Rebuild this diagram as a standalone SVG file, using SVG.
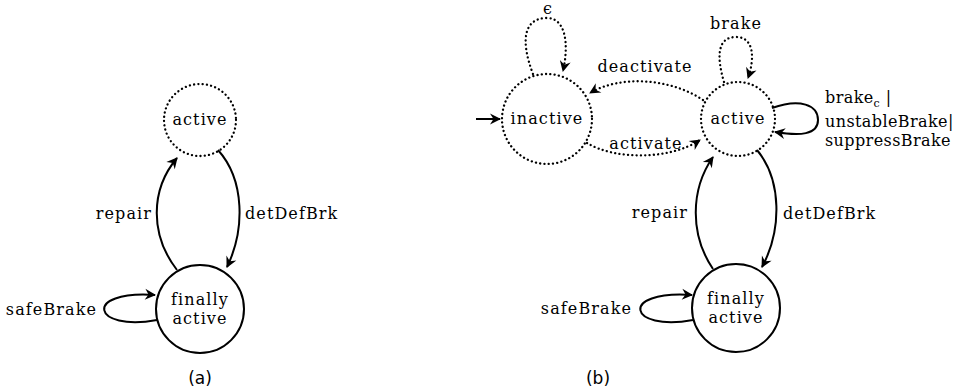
<svg xmlns="http://www.w3.org/2000/svg" width="961" height="392" viewBox="0 0 961 392">
<style>
.st{fill:#fff;stroke:#000;stroke-width:2}
.dot{fill:#fff;stroke:#000;stroke-width:2.3;stroke-dasharray:0.1 4.2;stroke-linecap:round}
.e{fill:none;stroke:#000;stroke-width:2;marker-end:url(#ah)}
.ed{fill:none;stroke:#000;stroke-width:2.3;stroke-dasharray:0.1 4.2;stroke-linecap:round;marker-end:url(#ah)}
text{font-family:"DejaVu Serif",serif;font-size:16px;letter-spacing:1.1px;fill:#000}
.m{text-anchor:middle}
.en{text-anchor:end}
.r{letter-spacing:0.4px}
.cap{font-family:"DejaVu Sans",sans-serif;font-size:17px;letter-spacing:0}
</style>
<defs>
<marker id="ah" markerUnits="userSpaceOnUse" viewBox="-12 -7 14 14" markerWidth="14" markerHeight="14" refX="0" refY="0" orient="auto">
<path d="M1,0 L-10,-5.5 L-6.5,0 L-10,5.5 Z" fill="#000"/>
</marker>
</defs>
<g id="a-active"><circle class="dot" cx="200" cy="120" r="36"/><text class="m" x="200" y="125">active</text></g>
<g id="a-finally"><circle class="st" cx="200" cy="309" r="44"/><text class="m" x="200" y="305">finally</text><text class="m" x="200" y="324">active</text></g>
<g id="b-inactive"><circle class="dot" cx="547" cy="119" r="45"/><text class="m" x="547" y="124">inactive</text></g>
<g id="b-active"><circle class="dot" cx="738" cy="119" r="37"/><text class="m" x="738" y="124">active</text></g>
<g id="b-finally"><circle class="st" cx="736" cy="308" r="44"/><text class="m" x="736" y="304">finally</text><text class="m" x="736" y="323">active</text></g>
<g id="connectors">
<path class="e" d="M177,270 C150,235 150,190 177,158"/>
<path class="e" d="M218,150 C245,180 245,230 227,267"/>
<path class="e" d="M157,320 C92,332 82,290 155,295"/>
<path class="e" d="M476,119 L500,119"/>
<path class="ed" d="M533,74 C520,40 524,18 547,18 C566,18 569,45 563,71"/>
<path class="ed" d="M703,100 C670,78 620,75 590,93"/>
<path class="ed" d="M587,143 C615,160 670,160 700,140"/>
<path class="ed" d="M724,82 C716,55 718,37 736,37 C754,37 755,58 748,78"/>
<path class="e" d="M772,108 C800,98 818,105 818,120 C818,135 800,136 775,132"/>
<path class="e" d="M713,269 C690,235 690,190 713,157"/>
<path class="e" d="M757,150 C782,180 782,230 762,267"/>
<path class="e" d="M693,320 C628,332 618,290 692,295"/>
</g>
<g id="labels">
<text class="en" x="152" y="219">repair</text>
<text x="245" y="219">detDefBrk</text>
<text class="en" x="97" y="315">safeBrake</text>
<text class="m cap" x="200" y="384">(a)</text>
<text class="m" x="548" y="14">ϵ</text>
<text class="m" x="645" y="72">deactivate</text>
<text class="m" x="646" y="149">activate</text>
<text class="m" x="736" y="29">brake</text>
<text class="r" x="825" y="103">brake<tspan font-size="11" dy="4">c</tspan><tspan dy="-4"> |</tspan></text>
<text class="r" x="825" y="127">unstableBrake|</text>
<text class="r" x="825" y="146">suppressBrake</text>
<text class="en" x="688" y="218">repair</text>
<text x="783" y="219">detDefBrk</text>
<text class="en" x="632" y="314">safeBrake</text>
<text class="m cap" x="598" y="384">(b)</text>
</g>
</svg>
